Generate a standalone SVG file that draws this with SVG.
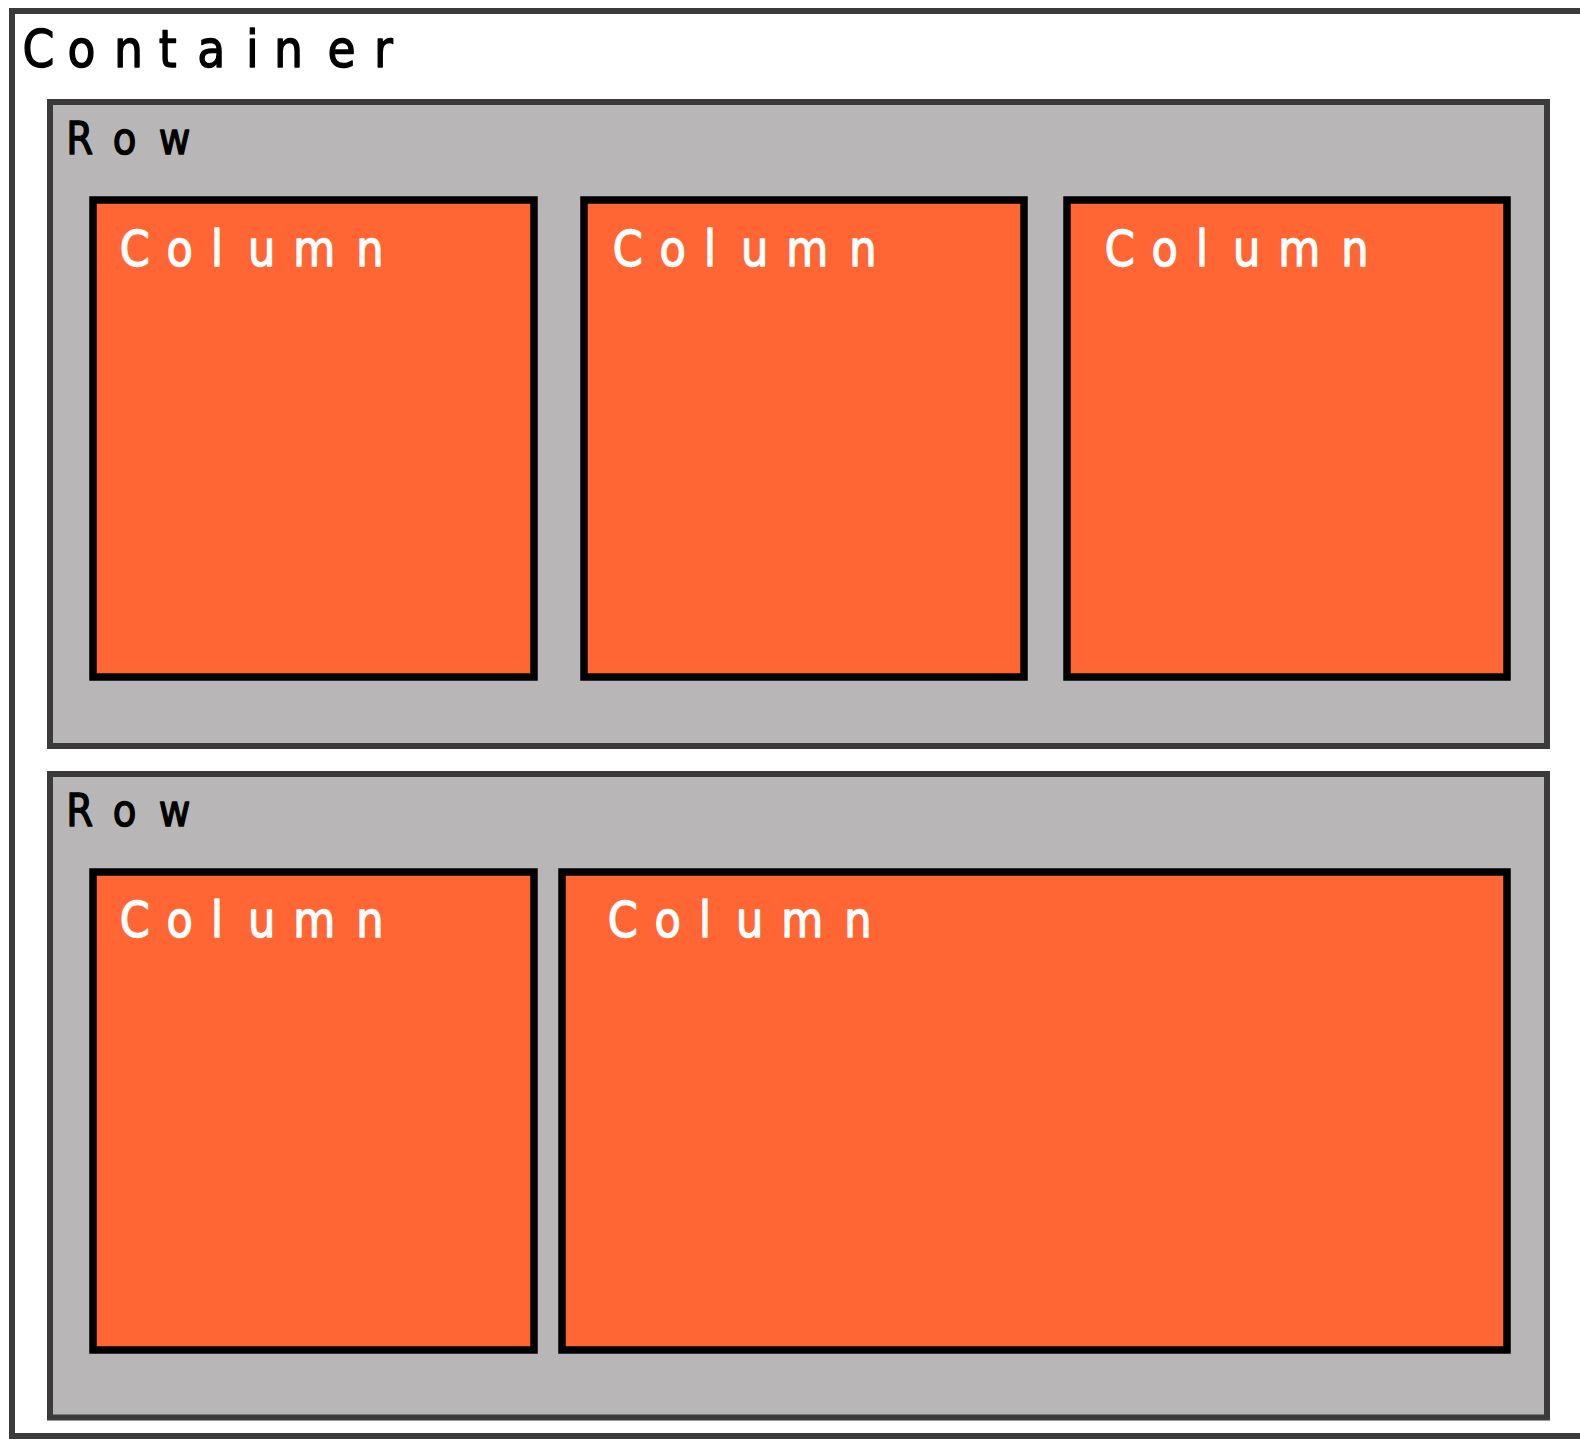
<svg xmlns="http://www.w3.org/2000/svg" width="1580" height="1439" viewBox="0 0 1580 1439">
  <style>
    .container { fill: #ffffff; stroke: #3b3b3b; stroke-width: 6; }
    .row { fill: #b8b6b7; stroke: #3b3b3b; stroke-width: 6; }
    .column { fill: #ff6633; stroke: #000000; stroke-width: 7.5; }
    .label { font-family: "DejaVu Sans", "Liberation Sans", sans-serif; stroke-width: 1.4; stroke-linejoin: round; }
    .dark { fill: #000000; stroke: #000000; }
    .light { fill: #ffffff; stroke: #ffffff; }
  </style>
  <rect width="1580" height="1439" fill="#ffffff"/>

  <!-- outer container, open to the right -->
  <g id="container">
    <rect class="container" x="12" y="11" width="1620" height="1425"/>
    <g transform="translate(25 67) scale(0.88 1)">
      <text class="label dark" font-size="52" x="-2.9 48.2 101.1 152 195.8 251.1 282.9 343.7 396.5" y="0">Container</text>
    </g>
  </g>

  <!-- first row: three equal columns -->
  <g id="row-1">
    <rect class="row" x="50" y="102" width="1497" height="644"/>
    <g transform="translate(70 154) scale(0.88 1)">
      <text class="label dark" font-size="44" x="-4.3 48.7 100.8" y="0">Row</text>
    </g>
  </g>
  <g id="row-1-col-1">
    <rect class="column" x="93" y="200" width="441" height="477"/>
    <g transform="translate(122 266) scale(0.88 1)">
      <text class="label light" font-size="49" x="-2.7 50.7 101.1 143.3 194.5 266.1" y="0">Column</text>
    </g>
  </g>
  <g id="row-1-col-2">
    <rect class="column" x="584" y="200" width="440" height="477"/>
    <g transform="translate(615 266) scale(0.88 1)">
      <text class="label light" font-size="49" x="-2.7 50.7 101.1 143.3 194.5 266.1" y="0">Column</text>
    </g>
  </g>
  <g id="row-1-col-3">
    <rect class="column" x="1067" y="200" width="440" height="477"/>
    <g transform="translate(1107 266) scale(0.88 1)">
      <text class="label light" font-size="49" x="-2.7 50.7 101.1 143.3 194.5 266.1" y="0">Column</text>
    </g>
  </g>

  <!-- second row: narrow column plus wide column -->
  <g id="row-2">
    <rect class="row" x="50" y="774" width="1497" height="643.5"/>
    <g transform="translate(70 826) scale(0.88 1)">
      <text class="label dark" font-size="44" x="-4.3 48.7 100.8" y="0">Row</text>
    </g>
  </g>
  <g id="row-2-col-1">
    <rect class="column" x="93" y="872" width="441" height="478"/>
    <g transform="translate(122 937) scale(0.88 1)">
      <text class="label light" font-size="49" x="-2.7 50.7 101.1 143.3 194.5 266.1" y="0">Column</text>
    </g>
  </g>
  <g id="row-2-col-2">
    <rect class="column" x="562" y="872" width="945" height="478"/>
    <g transform="translate(610 937) scale(0.88 1)">
      <text class="label light" font-size="49" x="-2.7 50.7 101.1 143.3 194.5 266.1" y="0">Column</text>
    </g>
  </g>

  <!-- layout diagram has no connectors -->
  <g id="connectors"/>
</svg>
